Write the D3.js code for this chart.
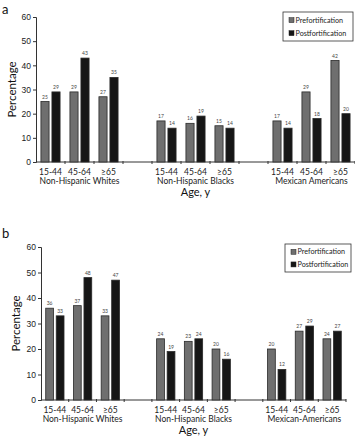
<!DOCTYPE html>
<html>
<head>
<meta charset="utf-8">
<script src="https://cdn.jsdelivr.net/npm/d3@7"></script>
<style>
  body { margin: 0; background: #fff; }
  svg { display: block; font-family: Lato, "Noto Sans", sans-serif; }
  .axis text { fill: #222; }
</style>
</head>
<body>
<svg id="chart" width="355" height="440"></svg>
<script>
// values
const series = ['Prefortification', 'Postfortification'];
const ages = ['15-44', '45-64', '\u226565'];
const groupsA = ['Non-Hispanic Whites', 'Non-Hispanic Blacks', 'Mexican Americans'];
const groupsB = ['Non-Hispanic Whites', 'Non-Hispanic Blacks', 'Mexican-Americans'];
const yTicks = [0, 10, 20, 30, 40, 50, 60];

const preA  = [25, 29, 27, 17, 16, 15, 17, 29, 42];
const postA = [29, 43, 35, 14, 19, 14, 14, 18, 20];
const preB  = [36, 37, 33, 24, 23, 20, 20, 27, 24];
const postB = [33, 48, 47, 19, 24, 16, 12, 29, 27];

const colors = {Prefortification: '#6f6f6f', Postfortification: '#161616'};

const svg = d3.select('#chart');

function drawPanel(cfg, groups, pre, post) {
  // one slot per age group plus an empty slot between ethnic groups
  const slots = [];
  groups.forEach((g, gi) => {
    ages.forEach(a => slots.push(g + '|' + a));
    if (gi < groups.length - 1) slots.push('gap' + gi);
  });

  const rows = [];
  groups.forEach((g, gi) => {
    ages.forEach((a, ai) => {
      const i = gi * ages.length + ai;
      rows.push({slot: g + '|' + a, key: series[0], value: pre[i]});
      rows.push({slot: g + '|' + a, key: series[1], value: post[i]});
    });
  });

  const x0 = d3.scaleBand().domain(slots).range([cfg.left, cfg.right]);
  const x1 = d3.scaleBand().domain(series)
      .range([x0.bandwidth() * 0.17, x0.bandwidth() * 0.83])
      .paddingInner(0.26);
  const y = d3.scaleLinear().domain([0, 60]).range([cfg.bottom, cfg.top]);

  const g = svg.append('g');

  // panel letter
  g.append('text')
      .attr('x', 2).attr('y', cfg.letterY)
      .attr('font-size', 13)
      .attr('fill', '#111')
      .text(cfg.letter);

  // y axis
  const yAxis = d3.axisLeft(y).tickValues(yTicks).tickSize(3).tickPadding(2);
  g.append('g')
      .attr('class', 'axis')
      .attr('transform', `translate(${cfg.left},0)`)
      .call(yAxis)
      .call(a => a.selectAll('text').attr('font-size', 8.5))
      .call(a => a.selectAll('line, path').attr('stroke', '#333'));

  // x axis line with small ticks at slot boundaries
  g.append('line')
      .attr('x1', cfg.left).attr('x2', cfg.right)
      .attr('y1', cfg.bottom).attr('y2', cfg.bottom)
      .attr('stroke', '#333');
  g.selectAll('.xtick')
    .data(slots)
    .join('line')
      .attr('class', 'xtick')
      .attr('x1', d => x0(d) + x0.bandwidth())
      .attr('x2', d => x0(d) + x0.bandwidth())
      .attr('y1', cfg.bottom - 1)
      .attr('y2', cfg.bottom + 2)
      .attr('stroke', '#333');

  // bars
  g.selectAll('.bar')
    .data(rows)
    .join('rect')
      .attr('class', 'bar')
      .attr('x', d => x0(d.slot) + x1(d.key))
      .attr('y', d => y(d.value))
      .attr('width', x1.bandwidth())
      .attr('height', d => cfg.bottom - y(d.value))
      .attr('fill', d => colors[d.key])
      .attr('stroke', '#2a2a2a')
      .attr('stroke-width', 0.8);

  // value labels
  g.selectAll('.val')
    .data(rows)
    .join('text')
      .attr('class', 'val')
      .attr('x', d => x0(d.slot) + x1(d.key) + x1.bandwidth() / 2)
      .attr('y', d => y(d.value) - 3)
      .attr('text-anchor', 'middle')
      .attr('font-size', 5)
      .attr('fill', '#444')
      .text(d => d.value);

  // age labels
  g.selectAll('.age')
    .data(slots.filter(s => !s.startsWith('gap')))
    .join('text')
      .attr('class', 'age')
      .attr('x', d => x0(d) + x0.bandwidth() / 2)
      .attr('y', cfg.ageY)
      .attr('text-anchor', 'middle')
      .attr('font-size', 8.5)
      .attr('fill', '#222')
      .text(d => d.split('|')[1]);

  // ethnic group labels, centred under the middle age group
  g.selectAll('.grp')
    .data(groups)
    .join('text')
      .attr('class', 'grp')
      .attr('x', d => x0(d + '|' + ages[1]) + x0.bandwidth() / 2)
      .attr('y', cfg.groupY)
      .attr('text-anchor', 'middle')
      .attr('font-size', 8.5)
      .attr('fill', '#222')
      .text(d => d);

  // axis titles
  g.append('text')
      .attr('x', x0(groups[1] + '|' + ages[1]) + x0.bandwidth() / 2)
      .attr('y', cfg.titleY)
      .attr('text-anchor', 'middle')
      .attr('font-size', 11)
      .attr('fill', '#111')
      .text('Age, y');

  g.append('text')
      .attr('transform', `translate(${cfg.ylabX},${(cfg.top + cfg.bottom) / 2}) rotate(-90)`)
      .attr('text-anchor', 'middle')
      .attr('font-size', 11.5)
      .attr('fill', '#111')
      .text('Percentage');

  // legend
  const lg = g.append('g').attr('transform', `translate(${cfg.legX},${cfg.legY})`);
  lg.append('rect')
      .attr('width', cfg.legW).attr('height', cfg.legH)
      .attr('fill', '#fff').attr('stroke', '#333').attr('stroke-width', 0.8);
  series.forEach((s, i) => {
    const yy = cfg.legH * (0.28 + i * 0.45);
    lg.append('rect')
        .attr('x', 6).attr('y', yy - 2.5)
        .attr('width', 5).attr('height', 5)
        .attr('fill', colors[s]).attr('stroke', '#222').attr('stroke-width', 0.5);
    lg.append('text')
        .attr('x', 12.5).attr('y', yy + 2.5)
        .attr('font-size', 7.2)
        .attr('fill', '#222')
        .text(s);
  });
}

drawPanel({letter: 'a', letterY: 14, left: 36, right: 355, top: 17, bottom: 162,
           ageY: 175, groupY: 184, titleY: 196, ylabX: 16,
           legX: 283, legY: 12, legW: 70, legH: 29}, groupsA, preA, postA);

drawPanel({letter: 'b', letterY: 238, left: 41, right: 346, top: 247, bottom: 400,
           ageY: 413, groupY: 422, titleY: 434, ylabX: 20,
           legX: 285, legY: 244, legW: 66, legH: 28}, groupsB, preB, postB);
</script>
</body>
</html>
